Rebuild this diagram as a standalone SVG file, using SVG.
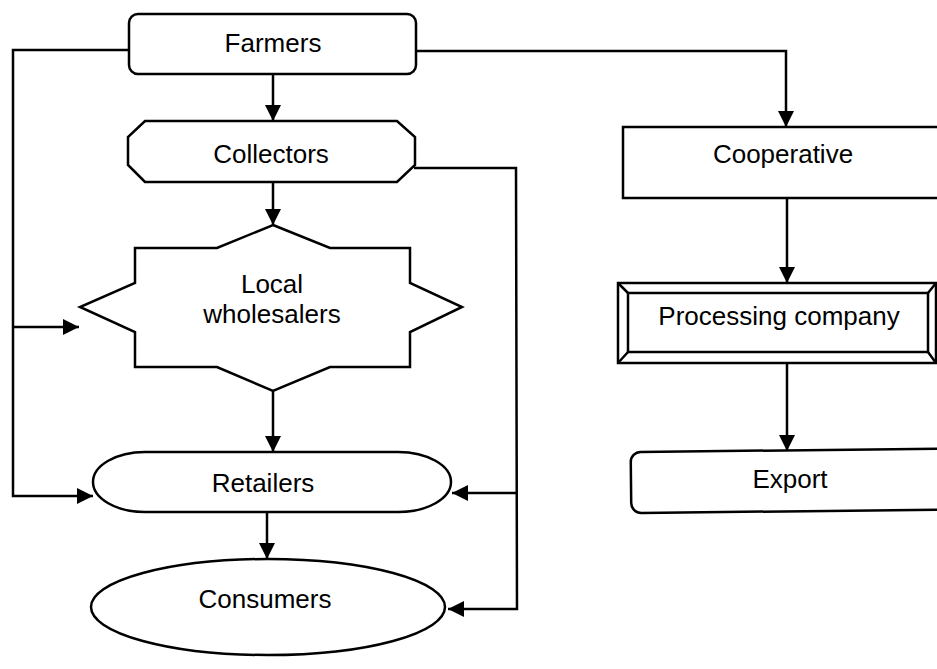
<svg xmlns="http://www.w3.org/2000/svg" width="937" height="669" viewBox="0 0 937 669">
<style>
.s{fill:#fff;stroke:#000;stroke-width:2.5;stroke-linejoin:miter}
.c{fill:none;stroke:#000;stroke-width:2.5}
.t{font-family:"Liberation Sans",Arial,sans-serif;font-size:26px;fill:#000;text-anchor:middle}
</style>
<defs>
<marker id="ah" markerUnits="userSpaceOnUse" markerWidth="16" markerHeight="16" viewBox="0 0 16 16" refX="16" refY="8" orient="auto">
<path d="M0,0 L16,8 L0,16 Z" fill="#000"/>
</marker>
</defs>
<rect width="937" height="669" fill="#fff"/>
<g id="connectors">
<path class="c" d="M273,74 V121" marker-end="url(#ah)"/>
<path class="c" d="M273,182 V225" marker-end="url(#ah)"/>
<path class="c" d="M273,391 V452" marker-end="url(#ah)"/>
<path class="c" d="M267,512 V559" marker-end="url(#ah)"/>
<path class="c" d="M129,50 H13 V496 H93" marker-end="url(#ah)"/>
<path class="c" d="M13,327 H79" marker-end="url(#ah)"/>
<path class="c" d="M414,168 H516 L517,609 H448" marker-end="url(#ah)"/>
<path class="c" d="M517,493 H452" marker-end="url(#ah)"/>
<path class="c" d="M416,51 H786 V127" marker-end="url(#ah)"/>
<path class="c" d="M787,198 V283" marker-end="url(#ah)"/>
<path class="c" d="M787,363 V451" marker-end="url(#ah)"/>
</g>
<g id="farmers">
<rect class="s" x="129" y="14" width="287" height="60" rx="9"/>
<text class="t" x="273" y="52">Farmers</text>
</g>
<g id="collectors">
<path class="s" d="M145,121 H397 L415,137 V165 L397,182 H145 L128,165 V137 Z"/>
<text class="t" x="271" y="163">Collectors</text>
</g>
<g id="wholesalers">
<path class="s" d="M273,225 L330,248 H410 V283 L462,307 L410,332 V367 H330 L273,391 L217,367 H135 V332 L80,307 L135,283 V248 H217 Z"/>
<text class="t" x="272" y="293">Local</text>
<text class="t" x="272" y="323">wholesalers</text>
</g>
<g id="retailers">
<path class="s" d="M145,452 H398 A53,30 0 0 1 398,512 H145 A52,30 0 0 1 145,452 Z"/>
<text class="t" x="263" y="492">Retailers</text>
</g>
<g id="consumers">
<ellipse class="s" cx="268" cy="607" rx="177" ry="48"/>
<text class="t" x="265" y="608">Consumers</text>
</g>
<g id="cooperative">
<rect class="s" x="623" y="127" width="320" height="71"/>
<text class="t" x="783" y="163">Cooperative</text>
</g>
<g id="processing">
<rect class="s" x="618" y="283" width="318" height="80"/>
<rect class="s" x="628" y="293" width="300" height="59"/>
<path class="c" d="M618,283 L628,293 M936,283 L928,293 M618,363 L628,352 M936,363 L928,352"/>
<text class="t" x="779" y="325">Processing company</text>
</g>
<g id="export">
<rect class="s" x="631" y="452" width="330" height="61" rx="10" transform="rotate(-0.6 631 483)"/>
<text class="t" x="790" y="488">Export</text>
</g>
</svg>
